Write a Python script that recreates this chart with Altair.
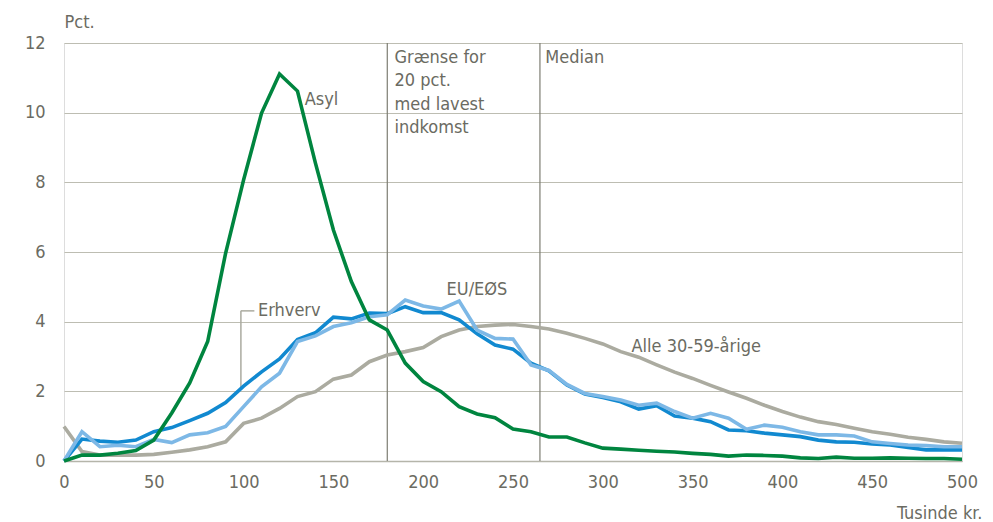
import altair as alt
import pandas as pd

x_vals = list(range(0, 510, 10))

asyl = [0, 0.17, 0.17, 0.22, 0.3, 0.6, 1.38, 2.24, 3.43, 5.97, 8.07, 9.99, 11.11, 10.62, 8.55, 6.63, 5.15, 4.05, 3.76,
        2.81, 2.28, 1.99, 1.56, 1.35, 1.24, 0.92, 0.84, 0.69, 0.69, 0.52, 0.37, 0.34, 0.31, 0.28, 0.26,
        0.22, 0.19, 0.14, 0.17, 0.16, 0.14, 0.09, 0.07, 0.11, 0.08, 0.08, 0.09, 0.08, 0.07, 0.07, 0.05]
erhverv = [0, 0.63, 0.57, 0.54, 0.6, 0.84, 0.96, 1.16, 1.37, 1.68, 2.15, 2.56, 2.93, 3.49, 3.68, 4.13, 4.08, 4.25, 4.23,
           4.43, 4.26, 4.26, 4.05, 3.65, 3.33, 3.21, 2.81, 2.59, 2.18, 1.92, 1.82, 1.70, 1.49, 1.59, 1.29,
           1.23, 1.13, 0.89, 0.87, 0.8, 0.75, 0.70, 0.60, 0.55, 0.54, 0.49, 0.46, 0.39, 0.32, 0.32, 0.32]
eu_eos = [0, 0.84, 0.41, 0.45, 0.41, 0.62, 0.53, 0.75, 0.81, 0.99, 1.56, 2.13, 2.52, 3.43, 3.59, 3.86, 3.97, 4.14, 4.2,
          4.62, 4.45, 4.36, 4.59, 3.76, 3.52, 3.5, 2.76, 2.6, 2.2, 1.94, 1.85, 1.75, 1.6, 1.66, 1.42,
          1.23, 1.37, 1.23, 0.91, 1.03, 0.97, 0.84, 0.75, 0.75, 0.72, 0.55, 0.5, 0.46, 0.44, 0.41, 0.41]
alle = [0.99, 0.27, 0.17, 0.17, 0.17, 0.19, 0.25, 0.32, 0.41, 0.55, 1.08, 1.23, 1.51, 1.85, 1.99, 2.35, 2.47, 2.85, 3.04,
        3.14, 3.26, 3.57, 3.76, 3.86, 3.9, 3.92, 3.86, 3.79, 3.67, 3.52, 3.36, 3.14, 2.98, 2.76, 2.55,
        2.37, 2.17, 1.98, 1.8, 1.6, 1.42, 1.26, 1.13, 1.05, 0.94, 0.84, 0.77, 0.68, 0.62, 0.55, 0.51]

series_names = ["Alle 30-59-årige", "Erhverv", "EU/EØS", "Asyl"]
series_values = [alle, erhverv, eu_eos, asyl]
series_colors = ["#ABABA0", "#1189D0", "#7DB8E6", "#00853F"]

x_ticks = list(range(0, 550, 50))
y_ticks = list(range(0, 14, 2))

ref_x = [180, 265]
ref_labels = [
    {"x": 184, "y": 11.57, "text": "Grænse for"},
    {"x": 184, "y": 10.9, "text": "20 pct."},
    {"x": 184, "y": 10.23, "text": "med lavest"},
    {"x": 184, "y": 9.56, "text": "indkomst"},
    {"x": 268, "y": 11.57, "text": "Median"},
]
series_labels = [
    {"x": 134, "y": 10.36, "text": "Asyl"},
    {"x": 213, "y": 4.91, "text": "EU/EØS"},
    {"x": 316, "y": 3.27, "text": "Alle 30-59-årige"},
    {"x": 108, "y": 4.31, "text": "Erhverv"},
]
leader_h = [{"x": 98.5, "x2": 106, "y": 4.31}]
leader_v = [{"x": 98.5, "y": 4.31, "y2": 2.05}]

FONT = "DejaVu Sans Condensed, Liberation Sans"
TXT = "#6B6B62"
FS = 18

rows = []
for name, vals in zip(series_names, series_values):
    for xv, yv in zip(x_vals, vals):
        rows.append({"x": xv, "y": yv, "series": name})
df = pd.DataFrame(rows)

xscale = alt.Scale(domain=[0, 500], nice=False, zero=False)
yscale = alt.Scale(domain=[0, 12], nice=False)

base = alt.Chart(df)
lines = []
for name, col in zip(series_names, series_colors):
    lines.append(
        base.transform_filter(alt.datum.series == name)
        .mark_line(color=col, strokeWidth=3.6, strokeJoin="miter")
        .encode(
            x=alt.X("x:Q", scale=xscale,
                    axis=alt.Axis(values=x_ticks, grid=False, ticks=False, domain=True,
                                  domainColor="#B5B5AA", domainWidth=1.5, labelFlush=False,
                                  labelFont=FONT, labelFontSize=FS, labelColor=TXT,
                                  labelPadding=12, title="Tusinde kr.", titleFont=FONT,
                                  titleFontSize=FS, titleFontWeight="normal", titleColor=TXT,
                                  titleAnchor="end", titleAlign="right", titleX=918, titleY=57,
                                  titleBaseline="alphabetic")),
            y=alt.Y("y:Q", scale=yscale,
                    axis=alt.Axis(values=y_ticks, grid=True, gridColor="#BDBDB2", gridWidth=1,
                                  ticks=False, domain=False, labelFont=FONT, labelFontSize=FS,
                                  labelColor=TXT, labelPadding=19, title="Pct.", titleAngle=0,
                                  titleFont=FONT, titleFontSize=FS, titleFontWeight="normal",
                                  titleColor=TXT, titleAlign="left", titleX=0, titleY=-16,
                                  titleBaseline="alphabetic")),
        )
    )

rules = alt.Chart(pd.DataFrame({"x": ref_x})).mark_rule(color="#7D7D72", strokeWidth=1.2).encode(
    x=alt.X("x:Q", scale=xscale), y=alt.value(0), y2=alt.value(418)
)
ref_text = alt.Chart(pd.DataFrame(ref_labels)).mark_text(
    align="left", baseline="middle", font=FONT, fontSize=FS, color=TXT
).encode(x=alt.X("x:Q", scale=xscale), y=alt.Y("y:Q", scale=yscale), text="text:N")
ser_text = alt.Chart(pd.DataFrame(series_labels)).mark_text(
    align="left", baseline="middle", font=FONT, fontSize=FS, color=TXT
).encode(x=alt.X("x:Q", scale=xscale), y=alt.Y("y:Q", scale=yscale), text="text:N")
lh = alt.Chart(pd.DataFrame(leader_h)).mark_rule(color="#ABABA0", strokeWidth=1.5).encode(
    x=alt.X("x:Q", scale=xscale), x2="x2:Q", y=alt.Y("y:Q", scale=yscale)
)
lv = alt.Chart(pd.DataFrame(leader_v)).mark_rule(color="#ABABA0", strokeWidth=1.5).encode(
    x=alt.X("x:Q", scale=xscale), y=alt.Y("y:Q", scale=yscale), y2="y2:Q"
)

chart = alt.layer(rules, lh, lv, *lines, ref_text, ser_text).properties(
    width=898, height=418,
    autosize=alt.AutoSizeParams(type="none"),
    padding={"left": 56, "top": 35, "right": 20, "bottom": 62},
).configure_view(stroke=None).configure(background="white")

chart.save("out.html", embed_options={"renderer": "svg", "actions": False})
